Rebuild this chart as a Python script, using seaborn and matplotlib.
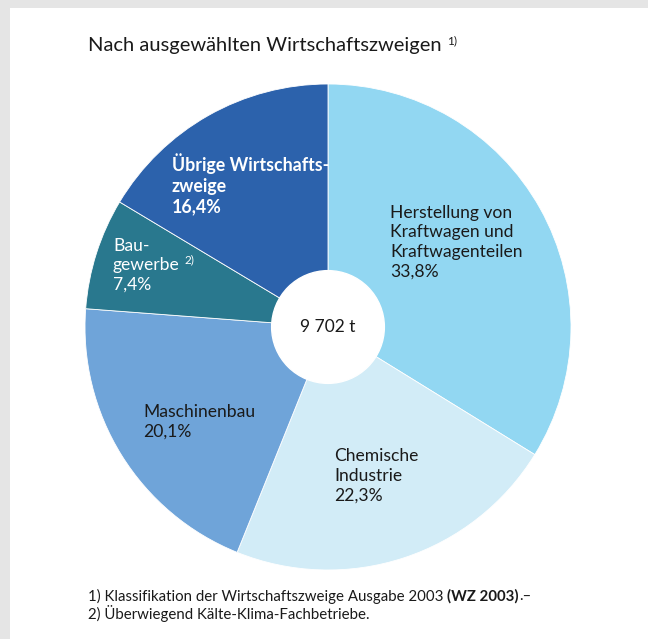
import matplotlib
matplotlib.use("Agg")
import matplotlib.pyplot as plt
import seaborn as sns

# --- Daten ---
branchen = ["Herstellung von\nKraftwagen und\nKraftwagenteilen",
            "Chemische\nIndustrie",
            "Maschinenbau",
            "Bau-\ngewerbe",
            "Übrige Wirtschafts-\nzweige"]
anteile = [33.8, 22.3, 20.1, 7.4, 16.4]
gesamt = "9 702 t"
farben = ["#92d7f2", "#d2ecf7", "#6fa4d9", "#29788e", "#2c62ac"]
text_farben = ["#1a1a1a", "#1a1a1a", "#1a1a1a", "white", "white"]

titel = "Nach ausgewählten Wirtschaftszweigen"
fussnote_1 = "1) Klassifikation der Wirtschaftszweige Ausgabe 2003 "
fussnote_2 = "2) Überwiegend Kälte-Klima-Fachbetriebe."

sns.set_theme(style="white")
plt.rcParams['font.family'] = ['Lato', 'DejaVu Sans']

W, H = 648, 639
fig = plt.figure(figsize=(W / 100, H / 100), dpi=100, facecolor="#e5e5e5")
# weisses Feld
fig.patches.append(plt.Rectangle((10 / W, 0), 1, (H - 8) / H, transform=fig.transFigure,
                                 facecolor="white", edgecolor="none", zorder=-1))

cx, cy, r = 328, 327, 243
ax = fig.add_axes([(cx - r) / W, (H - cy - r) / H, 2 * r / W, 2 * r / H])
ax.set_facecolor("none")

wedges, _ = ax.pie(anteile, colors=sns.color_palette(farben), startangle=90, counterclock=False,
                   radius=1, wedgeprops=dict(linewidth=0.6, edgecolor="white"))
ax.add_patch(plt.Circle((0, 0), 0.232, color="white", zorder=5))
ax.text(0, 0, gesamt, ha="center", va="center", fontsize=12.5, color="#1a1a1a", zorder=6)
ax.set_xlim(-1, 1)
ax.set_ylim(-1, 1)
ax.set_aspect("equal")
ax.axis("off")

# Beschriftungen (Position in Achsenkoordinaten)
pos = [(0.255, 0.35), (0.025, -0.613), (-0.761, -0.391), (-0.885, 0.255), (-0.642, 0.588)]
for name, wert, (x, y), c in zip(branchen, anteile, pos, text_farben):
    bold = name.startswith("Übrige")
    ax.text(x, y, f"{name}\n{wert:.1f}%".replace(".", ","), ha="left", va="center",
            fontsize=12.8 if bold else 12.6, color=c, linespacing=1.27,
            fontweight="bold" if bold else "normal", zorder=6)

# Fussnotenzeichen bei Baugewerbe
fig.canvas.draw()
bau_txt = [t for t in ax.texts if t.get_text().startswith("Bau-")][0]
bb = bau_txt.get_window_extent()
ax.annotate("2)", xy=(0, 0), xycoords="figure pixels", xytext=(bb.x0 + 72, bb.y0 + 29),
            textcoords="figure pixels", fontsize=8.5, color="white", zorder=7)

t = fig.text(88 / W, 1 - 45 / H, titel, fontsize=14.5, color="#1a1a1a", va="center")
fig.canvas.draw()
bb = t.get_window_extent()
fig.text(bb.x1 / W + 5 / W, 1 - 41 / H, "1)", fontsize=8.5, color="#1a1a1a", va="center")

f1 = fig.text(88 / W, 1 - 596 / H, fussnote_1, fontsize=10.8, color="#1a1a1a", va="center")
fig.canvas.draw()
bb = f1.get_window_extent()
f2 = fig.text(bb.x1 / W, 1 - 596 / H, "(WZ 2003)", fontsize=10.8, fontweight="bold",
              color="#1a1a1a", va="center")
fig.canvas.draw()
bb = f2.get_window_extent()
fig.text(bb.x1 / W, 1 - 596 / H, ".–", fontsize=10.8, color="#1a1a1a", va="center")
fig.text(88 / W, 1 - 613 / H, fussnote_2, fontsize=10.8, color="#1a1a1a", va="center")

fig.savefig("out.png", dpi=100, facecolor=fig.get_facecolor())
